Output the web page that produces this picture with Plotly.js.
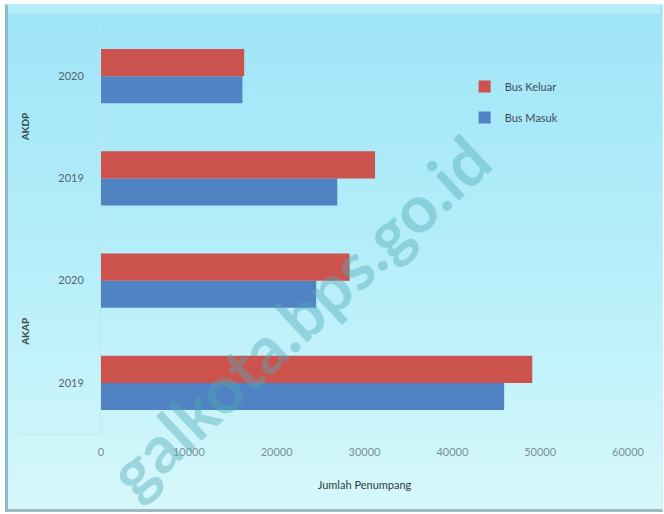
<!DOCTYPE html>
<html>
<head>
<meta charset="utf-8">
<script src="https://cdn.plot.ly/plotly-3.0.1.min.js"></script>
<style>
  html, body { margin: 0; padding: 0; background: #ffffff; }
  #wrap { position: relative; width: 664px; height: 514px; overflow: hidden; background: #ffffff; }
  #bg { position: absolute; left: 5px; top: 4px; width: 654px; height: 504px;
        background: linear-gradient(to bottom, #9fe4f8 0%, #b5eefa 50%, #d6f8fb 100%);
        border-left: 3px solid #8dbccb; border-bottom: 3px solid #9db9c1; border-top: 1px solid #c4f1fb; border-right: 1px solid #c8eef3; }
  #band { position: absolute; left: 8px; top: 5px; width: 652px; height: 9px; background: #b4eefb; }
  #chart { position: absolute; left: 0; top: 0; width: 664px; height: 514px; }
</style>
</head>
<body>
<div id="wrap">
  <div id="bg"></div>
  <div id="band"></div>
  <div id="chart"></div>
</div>
<script>
// Data (bottom to top)
const groups = ['AKAP', 'AKAP', 'AKDP', 'AKDP'];
const years = ['2019', '2020', '2019', '2020'];
const busMasuk = [45900, 24500, 26900, 16100];
const busKeluar = [49100, 28300, 31200, 16300];
const xTicks = [0, 10000, 20000, 30000, 40000, 50000, 60000];
const groupNames = ['AKDP', 'AKAP'];

const keys = groups.map((g, i) => g + ' ' + years[i]);

const font = 'Lato, "Open Sans", "Liberation Sans", sans-serif';

const traces = [
  {
    type: 'bar', orientation: 'h', name: 'Bus Masuk',
    y: keys, x: busMasuk, legendgroup: 'm', legendrank: 2,
    marker: { color: '#4f83c3' }, hoverinfo: 'x+name'
  },
  {
    type: 'bar', orientation: 'h', name: 'Bus Keluar',
    y: keys, x: busKeluar, legendgroup: 'k', legendrank: 1,
    marker: { color: '#cc524e' }, hoverinfo: 'x+name'
  }
];

// Group label annotations placed at the middle of each group's categories
const annotations = groupNames.map(g => {
  const idx = groups.map((gg, i) => gg === g ? i : -1).filter(i => i >= 0);
  const mid = (idx[0] + idx[idx.length - 1]) / 2;
  return {
    text: '<b>' + g + '</b>', xref: 'paper', yref: 'y', x: -0.144, y: mid,
    xanchor: 'center', yanchor: 'middle',
    showarrow: false, textangle: -90,
    font: { family: font, size: 10, color: '#3d4a50' }
  };
});
annotations.push({
  text: '<b>galkota.bps.go.id</b>', xref: 'paper', yref: 'paper',
  x: 0.375, y: 0.29, xanchor: 'center', yanchor: 'middle',
  showarrow: false, textangle: -43,
  font: { family: font, size: 66, color: 'rgba(80,170,180,0.42)' }
});

const layout = {
  width: 664, height: 514,
  paper_bgcolor: 'rgba(0,0,0,0)', plot_bgcolor: 'rgba(0,0,0,0)',
  margin: { l: 101, r: 36, t: 25, b: 80 },
  barmode: 'group', bargap: 0.47, bargroupgap: 0,
  font: { family: font, size: 11, color: '#6f8288' },
  showlegend: true,
  legend: {
    x: 0.69, y: 0.885, xanchor: 'left', yanchor: 'top',
    traceorder: 'grouped', tracegroupgap: 12,
    bgcolor: 'rgba(0,0,0,0)',
    font: { family: font, size: 11, color: '#3f4c52' },
    itemwidth: 30
  },
  xaxis: {
    range: [0, 60000], tickvals: xTicks, ticktext: xTicks.map(String),
    showgrid: false, zeroline: false, showline: false,
    ticks: '', ticklabelstandoff: 10,
    tickfont: { family: font, size: 11, color: '#7d9095' },
    title: { text: 'Jumlah Penumpang', standoff: 24, font: { family: font, size: 11, color: '#2f3b40' } }
  },
  yaxis: {
    type: 'category', categoryorder: 'array', categoryarray: keys,
    tickvals: keys, ticktext: years,
    showgrid: false, zeroline: false,
    showline: true, linecolor: 'rgba(200,225,232,0.8)', linewidth: 1,
    ticks: '', ticklabelstandoff: 14,
    tickfont: { family: font, size: 11, color: '#55666c' }
  },
  shapes: [
    { type: 'line', xref: 'paper', yref: 'paper', x0: -0.155, x1: 0, y0: 0, y1: 0,
      line: { color: 'rgba(200,225,232,0.9)', width: 1 } }
  ],
  annotations: annotations
};

Plotly.newPlot('chart', traces, layout, { displayModeBar: false, staticPlot: true });
</script>
</body>
</html>
